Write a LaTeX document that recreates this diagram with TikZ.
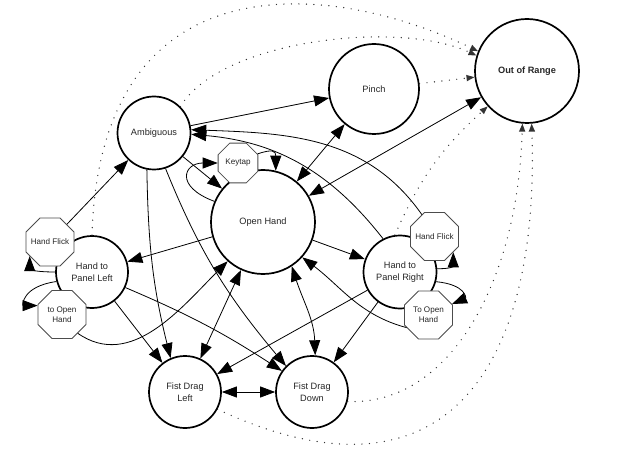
\documentclass[tikz,border=0pt]{standalone}
\usepackage{fontspec}
\setmainfont{Liberation Sans}
\usetikzlibrary{shapes.geometric,arrows.meta}

\tikzset{
  gesture/.style={draw, circle, line width=1.7pt, fill=white, text=black!85, font=\fontsize{9.2}{11.5}\selectfont, align=center, inner sep=0pt},
  minorbox/.style={draw=black!70, regular polygon, regular polygon sides=8, minimum size=52pt, inner ysep=0pt, inner xsep=-5pt, line width=0.8pt, fill=white, text=black!85, font=\fontsize{8.1}{10.3}\selectfont, align=center},
  move/.style={line width=0.8pt, -{Triangle[length=15pt,width=11pt]}},
  both/.style={line width=0.8pt, {Triangle[length=15pt,width=11pt]}-{Triangle[length=15pt,width=11pt]}},
  lost/.style={line width=1.4pt, black!80, dash pattern=on 0pt off 7.5pt, line cap=round, -{Triangle[length=8pt,width=6pt]}},
}

\begin{document}
\begin{tikzpicture}[x=1pt,y=1pt]
\useasboundingbox (0,0) rectangle (631,461);
\node[gesture, minimum size=104pt, font=\fontsize{9.2}{11.5}\selectfont\bfseries] (oor) at (527,390) {Out of Range};
\node[gesture, minimum size=90pt] (pinch) at (374,372) {Pinch};
\node[gesture, minimum size=73pt] (amb) at (154,328) {Ambiguous};
\node[gesture, minimum size=104pt] (open) at (263,239) {Open Hand};
\node[gesture, minimum size=72pt] (hpl) at (92,189) {Hand to\\Panel Left};
\node[gesture, minimum size=73pt] (hpr) at (400,189) {Hand to\\Panel Right};
\node[gesture, minimum size=72pt] (fdl) at (185,69) {Fist Drag\\Left};
\node[gesture, minimum size=72pt] (fdd) at (312,69) {Fist Drag\\Down};
\node[minorbox, minimum size=43pt] (keytap) at (238,298) {Keytap};
\node[minorbox] (flickl) at (50,219) {Hand Flick};
\node[minorbox] (toopenl) at (62,146.5) {to Open\\Hand};
\node[minorbox] (flickr) at (434.5,224.5) {Hand Flick};
\node[minorbox] (toopenr) at (428.5,146) {To Open\\Hand};

\draw[move] (amb) -- (pinch);
\draw[both] (open) -- (pinch);
\draw[both] (open) -- (oor);
\draw[move] (flickr.120) to[out=125,in=-2] (amb.5);
\draw[move] (hpr.117) to[out=128,in=-5] (amb.-2);
\draw[move] (amb) -- (open);
\draw[move] (open.157) .. controls +(-40,15) and +(-34,0) .. (keytap.west);
\draw[move] (keytap.25) .. controls +(15,5) and +(0,20) .. (open.76);
\draw[move] (open) -- (hpl);
\draw[move] (open) -- (hpr);
\draw[move] (flickl) -- (amb);
\draw[move] (hpl.west) .. controls +(-25,0) and +(0,-12) .. (flickl.215);
\draw[move] (hpl.195) .. controls +(-35,-5) and +(-15,0) .. (toopenl.160);
\draw[move] (toopenl.-50) to[out=-35,in=225] (open.228);
\draw[move] (hpr.5) .. controls +(20,0) and +(0,-12) .. (flickr.-40);
\draw[move] (hpr.-15) .. controls +(30,-3) and +(14,6) .. (toopenr.25);
\draw[move] (toopenr.210) to[out=165,in=-37] (open.-42);
\draw[move] (hpr) -- (fdl);
\draw[move] (hpr) -- (fdd);
\draw[move] (hpl) -- (fdl);
\draw[move] (hpl.-25) to[bend left=5] (fdd.145);
\draw[move] (amb.259) to[out=-89,in=104] (fdl.113);
\draw[move] (amb.-72) to[out=-68,in=130] (fdd.135);
\draw[both] (open) -- (fdl);
\draw[both] (open.-57) to[out=-72,in=92] (fdd.85);
\draw[both] (fdl) -- (fdd);

\draw[lost] (hpl.north) .. controls +(8,277) and +(-149,72) .. (oor.158);
\draw[lost] (amb.45) .. controls +(40,67) and +(-77,36) .. (oor.163);
\draw[lost] (pinch) -- (oor);
\draw[lost] (hpr.98) to[bend left=12] (oor.222);
\draw[lost] (fdd.-15) .. controls +(103,-4) and +(-4.5,-157) .. (oor.-95);
\draw[lost] (fdl.-28) to[out=-25,in=-88,looseness=1.5] (oor.-85);
\end{tikzpicture}
\end{document}
